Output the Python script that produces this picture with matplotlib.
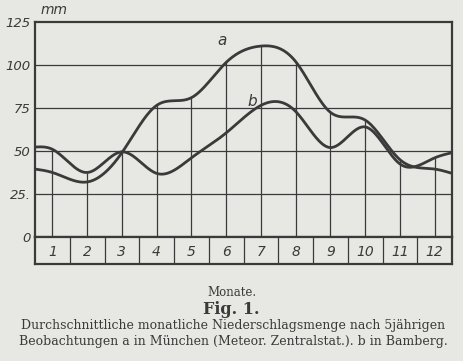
import numpy as np
import matplotlib
matplotlib.use('Agg')
import matplotlib.pyplot as plt

# monthly precipitation, mm
months = np.arange(1, 13)
month_labels = [str(m) for m in months]
a_vals = [37.5, 32, 49, 76.5, 81, 101.5, 111, 102, 72.5, 68, 45, 39.5]   # München
b_vals = [51, 37.5, 49.5, 37, 46, 60.5, 76.5, 73, 52, 64, 42.5, 46]      # Bamberg
# where the curves meet the left / right border
a_edges = [39.5, 37]
b_edges = [52.3, 49]

y_ticks = [0, 25, 50, 75, 100, 125]
y_tick_labels = ['0', '25.', '50', '75', '100', '125']

paper = '#e7e7e3'
ink = '#3a3a3a'


def smooth(x, y, xs):
    # natural cubic spline, just to draw a smooth hand-like curve
    x = np.asarray(x, float)
    y = np.asarray(y, float)
    n = len(x)
    h = np.diff(x)
    A = np.zeros((n, n))
    r = np.zeros(n)
    A[0, 0] = A[-1, -1] = 1
    for i in range(1, n - 1):
        A[i, i - 1] = h[i - 1]
        A[i, i] = 2 * (h[i - 1] + h[i])
        A[i, i + 1] = h[i]
        r[i] = 3 * ((y[i + 1] - y[i]) / h[i] - (y[i] - y[i - 1]) / h[i - 1])
    c = np.linalg.solve(A, r)
    b = (y[1:] - y[:-1]) / h - h * (2 * c[:-1] + c[1:]) / 3
    d = (c[1:] - c[:-1]) / (3 * h)
    k = np.clip(np.searchsorted(x, xs, side='right') - 1, 0, n - 2)
    dx = xs - x[k]
    return y[k] + b[k] * dx + c[k] * dx ** 2 + d[k] * dx ** 3


fig = plt.figure(figsize=(4.63, 3.61), dpi=100, facecolor=paper)
W, H = 463, 361
ax = fig.add_axes([35 / W, 1 - 237 / H, 417 / W, 215 / H], facecolor=paper)
ax2 = fig.add_axes([35 / W, 1 - 264 / H, 417 / W, 27 / H], facecolor=paper)

ax.set_xlim(0.5, 12.5)
ax.set_ylim(0, 125)

# horizontal rulings
for yv in y_ticks[1:-1]:
    ax.axhline(yv, color=ink, lw=0.9, zorder=1)

# drop lines from the higher curve down to zero
tops = np.maximum(a_vals, b_vals)
ax.vlines(months, 0, tops, color=ink, lw=0.9, zorder=1)

xs = np.linspace(0.5, 12.5, 400)
xa = np.concatenate([[0.5], months, [12.5]])
ax.plot(xs, smooth(xa, [a_edges[0]] + a_vals + [a_edges[1]], xs), color=ink, lw=2.0, zorder=3)
ax.plot(xs, smooth(xa, [b_edges[0]] + b_vals + [b_edges[1]], xs), color=ink, lw=2.0, zorder=3)

ax.text(5.88, 114, 'a', fontsize=11, style='italic', color=ink, ha='center', va='center')
ax.text(6.74, 79, 'b', fontsize=11, style='italic', color=ink, ha='center', va='center')

ax.set_yticks(y_ticks)
ax.set_yticklabels(y_tick_labels, fontsize=9.5, style='italic', color=ink)
ax.tick_params(axis='y', length=0, pad=3)
ax.set_xticks([])
for s in ax.spines.values():
    s.set_color(ink)
    s.set_linewidth(1.6)
ax.text(0.65, 128, 'mm', fontsize=10, style='italic', color=ink, ha='left', va='bottom')

# month boxes
ax2.set_xlim(0.5, 12.5)
ax2.set_ylim(0, 1)
ax2.vlines(months[:-1] + 0.5, 0, 1, color=ink, lw=0.9)
for m, lab in zip(months, month_labels):
    ax2.text(m, 0.45, lab, fontsize=10, style='italic', color=ink, ha='center', va='center')
ax2.set_xticks([])
ax2.set_yticks([])
for s in ax2.spines.values():
    s.set_color(ink)
    s.set_linewidth(1.6)

# caption
serif = 'DejaVu Serif'
fig.text(0.5, 1 - 293 / H, 'Monate.', family=serif, fontsize=8.5, color=ink, ha='center', va='center')
fig.text(0.5, 1 - 309 / H, 'Fig. 1.', family=serif, fontsize=11.5, weight='bold', color=ink, ha='center', va='center')
fig.text(233 / W, 1 - 326 / H, 'Durchschnittliche monatliche Niederschlagsmenge nach 5jährigen',
         family=serif, fontsize=9, color=ink, ha='center', va='center')
fig.text(233 / W, 1 - 342 / H, 'Beobachtungen a in München (Meteor. Zentralstat.). b in Bamberg.',
         family=serif, fontsize=9, color=ink, ha='center', va='center')

fig.savefig('out.png', dpi=100, facecolor=paper)
